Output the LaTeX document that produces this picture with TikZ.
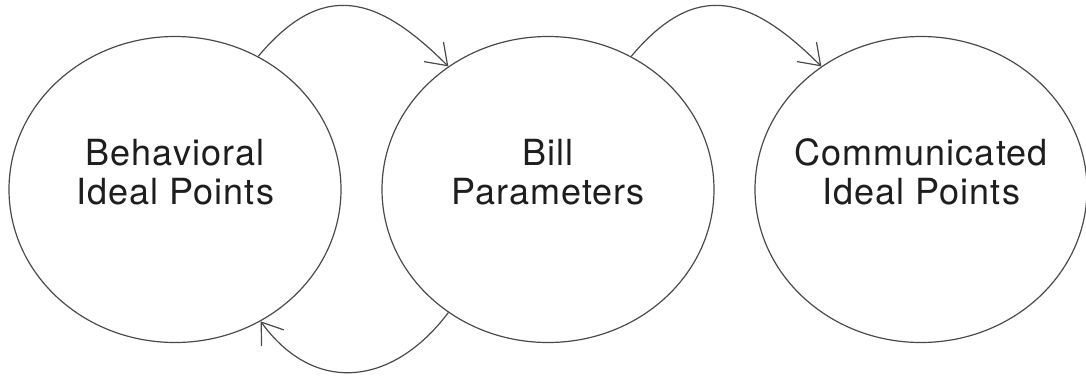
\documentclass[tikz,border=0pt]{standalone}
\usepackage{fontspec}
\newfontfamily\idfont{TeX Gyre Heros}[LetterSpace=3]
\usetikzlibrary{arrows.meta,shapes.geometric}
\definecolor{LN}{RGB}{74,74,74}
\definecolor{TX}{RGB}{30,30,30}
\tikzset{
  % big oval for each quantity
  idea/.style={
    ellipse, draw=LN, line width=0.6pt, fill=white,
    minimum width=166pt, minimum height=153pt, inner sep=0pt
  },
  % two-line caption, sits a bit above the oval centre
  idealbl/.style={
    align=center, yshift=8.75pt, text=TX,
    font=\idfont\fontsize{18pt}{19.2pt}\selectfont
  },
  % curved arrow between ovals
  flow/.style={
    draw=LN, line width=0.6pt,
    -{Straight Barb[length=9.8pt,width=13.8pt]}
  },
}
\begin{document}
\begin{tikzpicture}[x=0.5pt,y=0.5pt]
\useasboundingbox (0,0) rectangle (1086,382);

% ── Ovals ────────────────────────────────────────────────────────────────────
\node[idea, label={[idealbl]center:Behavioral\\Ideal Points}] (bhv) at (175,192.5) {};
\node[idea, label={[idealbl]center:Bill\\Parameters}] (bil) at (548,192.5) {};
\node[idea, label={[idealbl]center:Communicated\\Ideal Points}] (com) at (921,192.5) {};

% ── Arrows ───────────────────────────────────────────────────────────────────
\draw[flow] (bhv.58) to[out=50,in=135,looseness=1.35] (bil.129);
\draw[flow] (bil.58) to[out=50,in=135,looseness=1.35] (com.129);
\draw[flow] (bil.231) to[out=233,in=306,looseness=1.25] (bhv.303);

\end{tikzpicture}
\end{document}
